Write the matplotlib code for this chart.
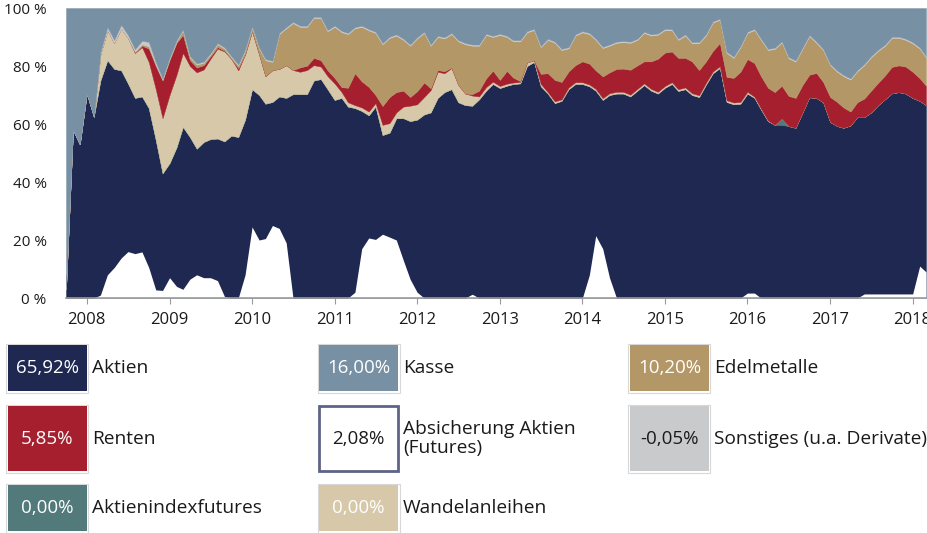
import matplotlib
matplotlib.use('Agg')
import matplotlib.pyplot as plt
import matplotlib.patches as mpatches
import matplotlib.dates as mdates
import numpy as np
import pandas as pd

plt.rcParams['font.family'] = ['Open Sans', 'DejaVu Sans']

# monthly allocation in % (Oct 2007 - Mar 2018)
months = pd.date_range('2007-10-01', periods=126, freq='MS')

aktien = [3, 58, 53, 70.5, 62.5, 75, 82, 79, 78.5, 74,
          69, 69.5, 65.5, 54.5, 43, 46.5, 52, 59, 55.5, 51.5,
          53.8, 54.8, 55, 54, 56, 55.5, 61.5, 72, 70, 67,
          67.6, 69.5, 69, 70.3, 70.3, 70.3, 75,
          75.5, 72, 68.3, 69, 66, 65.5, 64.5, 63, 66, 56.2, 57, 62, 62, 61, 61.5, 63.3, 64, 69,
          71, 72, 67.5, 66.5, 66.3, 68.5, 71.5, 73.8, 72.4, 73.2, 73.8, 74, 80, 81.4, 73, 70.5, 67.2, 68,
          72, 73.8, 73.8, 73, 71.5, 68.3, 70, 70.5, 70.5, 69.5, 71.5, 73.4, 71.5, 70.5, 72.5, 73.8, 71.4, 72, 70,
          69.3, 73.5, 77.5, 79.3, 67.6, 66.8, 67, 70.5, 69, 65, 61, 59.7, 59.7, 59.3, 58.7, 64, 69.2, 69,
          67.5, 60.7, 59.3, 58.7, 59.5, 62.4, 62.4, 64, 66.5, 68.6, 70.6, 71, 70.5, 69, 68, 66.5]

indexfutures = [0] * 104 + [2.2] + [0] * 21

wandelanleihen = [0, 0, 0, 0, 0, 9, 10.4, 9, 14.5, 15.7,
                  15.5, 17, 15.9, 17.5, 19, 23.5, 25, 25.5, 24.5, 26.3,
                  25, 27.7, 31, 31, 26.5, 23, 22.5, 20, 14, 9.5,
                  11, 9.5, 11.3, 8.3, 7.7, 8.3, 5.3,
                  4.3, 4.5, 5.7, 2, 1.5, 1, 1.2, 1.3, 1.2, 3.5, 3.3, 2, 4, 5.3, 5.3, 6, 7.7, 9,
                  6.5, 7.3, 6, 4, 3.5, 1, 1.2, 0.8, 0.7, 0.7, 0.5, 0.5, 1.2, 0.6, 0.8, 0.5, 0.6, 0.5] \
                 + [0.6] * 27 + [0.4, 0.3, 0.2] + [0] * 23

renten = [0, 0, 0, 0, 0, 0, 0, 0, 0, 0,
          0, 0.5, 4.6, 8, 13, 12, 11, 6.2, 2, 1.7,
          1.5, 0.8, 0.5, 0.3, 0, 0.8, 0, 0, 0, 0,
          0, 0, 0, 0, 1.5, 1.5, 2.5,
          2.2, 2, 1.9, 1.7, 5, 11, 9, 8.5, 2.8, 6.5, 9, 7, 5.5, 3, 4.5, 5, 0.6, 0.6,
          0.7, 0.2, 0, 0, 0.5, 2, 3, 3.8, 2.1, 4.4, 1.7, 0.3, 0, 0, 3.5, 6.5, 7.4, 6,
          5.5, 5.9, 7.2, 7.2, 6.4, 7.5, 7.2, 7.9, 8, 8.6, 8.1, 7.6, 9.5, 11.4, 11.5, 10.6, 10.8, 10.2, 11,
          8.7, 7.4, 7.1, 8, 8, 8.5, 10.4, 11.3, 11.6, 11.2, 11.3, 11.3, 11.3, 10.4, 10.3, 9.5, 7.8, 8.6,
          7, 8.6, 8.3, 7, 4.8, 5.1, 6.4, 7.5, 7.7, 8.2, 9.1, 9.2, 9.3, 9, 7.8, 6.7]

edelmetalle = [0, 0, 0, 0, 0, 0, 0, 0, 0, 0,
               0.5, 0.5, 0.8, 0.5, 0.3, 0.5, 0.5, 1.5, 1, 1,
               0.8, 0.7, 1, 0.7, 0.5, 0.8, 1.3, 1.3, 2, 5.5,
               2.8, 12, 12.7, 16.2, 14, 13.4, 13.8,
               14.5, 13.5, 17.6, 19, 18.5, 15.5, 18.8, 19.5, 21.4, 21.3, 20.4, 19.5, 17.5, 17.7, 18.2, 17.1, 14.7, 11.4,
               11.3, 11.5, 15, 17, 16.7, 15.5, 15, 11.6, 15.5, 11.7, 12.5, 13.7, 10.4, 10.4, 9.2, 11.5, 12.8, 11,
               8, 10.2, 10, 10.2, 10.5, 9.8, 9.2, 9, 9.1, 9.3, 8.8, 9.8, 8.9, 8.3, 7.8, 7.3, 6.2, 7.7, 6.2,
               9.3, 9, 9.8, 8, 8.3, 6.9, 8.5, 9, 11.4, 12.5, 13, 14.9, 14.9, 13, 12.5, 12.5, 13.3, 10.4,
               11, 11, 10.4, 10.8, 11, 10.7, 11.5, 11.5, 11, 10.2, 10, 9.5, 9.2, 9.8, 10.2, 9.8]

sonstiges = [0, 0, 0, 0, 0, 0.8, 1, 1, 1.2, 1, 0.8, 1.2, 1.5, 0.8] + [0.4] * 112

absicherung = [0, 0, 0, 0, 0, 1, 8, 10.5, 13.8, 16,
               15.3, 15.9, 10.5, 2.8, 2.6, 7, 4, 3, 6.5, 8,
               7, 7, 6, 0.5, 0, 0, 8, 24.5, 20, 20.5,
               25, 24, 19] + [0] * 9 + \
              [2, 17, 20.7, 20.2, 22, 21, 20, 13, 6.5, 2] + [0] * 7 + [1.3] + [0] * 16 + \
              [8, 21.5, 17, 7] + [0] * 19 + [1.7, 1.7] + [0] * 15 + [1.4] * 8 + [11, 9]

legend_values = ['65,92%', '16,00%', '10,20%', '5,85%', '2,08%', '-0,05%', '0,00%', '0,00%']
legend_labels = ['Aktien', 'Kasse', 'Edelmetalle', 'Renten', 'Absicherung Aktien\n(Futures)',
                 'Sonstiges (u.a. Derivate)', 'Aktienindexfutures', 'Wandelanleihen']

c_aktien = '#1f2850'
c_kasse = '#7890a3'
c_edel = '#b39766'
c_renten = '#a61f2e'
c_wandel = '#d6c8a8'
c_sonst = '#c9cacc'
c_index = '#527a7b'
c_absich = '#5e6486'

W, H = 928, 533
fig = plt.figure(figsize=(W / 100, H / 100), dpi=100)
ax = fig.add_axes([66 / W, (H - 298) / H, (926 - 66) / W, 290 / H])

layers = [np.array(aktien), np.array(indexfutures), np.array(wandelanleihen),
          np.array(renten), np.array(edelmetalle), np.array(sonstiges)]
colors = [c_aktien, c_index, c_wandel, c_renten, c_edel, c_sonst]
top = np.sum(layers, axis=0)
kasse = 100 - top
ax.stackplot(months, *layers, kasse, colors=colors + [c_kasse], linewidth=0.3,
             edgecolor='face')
ax.fill_between(months, 0, absicherung, color='white', linewidth=0)

ax.set_xlim(months[0], months[-1])
ax.set_ylim(0, 100)
for s in ['top', 'right', 'left']:
    ax.spines[s].set_visible(False)
ax.spines['bottom'].set_color('#9a9a9a')
ax.spines['bottom'].set_linewidth(1.2)
ax.set_yticks([0, 20, 40, 60, 80, 100])
ax.set_yticklabels([f'{v} %' for v in [0, 20, 40, 60, 80, 100]])
ax.tick_params(axis='y', length=0, pad=14, labelsize=11, labelcolor='#1a1a1a')
ax.xaxis.set_major_locator(mdates.YearLocator())
ax.xaxis.set_major_formatter(mdates.DateFormatter('%Y'))
ax.tick_params(axis='x', length=4, color='#9a9a9a', pad=6, labelsize=12, labelcolor='#1a1a1a')


def legend_box(x0, y0, x1, y1, face, value, tcolor, label, edge=None):
    if edge is None:
        frame = mpatches.Rectangle(((x0 - 1.5) / W, 1 - (y1 + 1.5) / H), (x1 - x0 + 3) / W,
                                   (y1 - y0 + 3) / H, transform=fig.transFigure,
                                   facecolor='none', edgecolor='#d8d8d8', lw=0.8)
        fig.add_artist(frame)
        rect = mpatches.Rectangle((x0 / W, 1 - y1 / H), (x1 - x0) / W, (y1 - y0) / H,
                                  transform=fig.transFigure, facecolor=face, lw=0)
    else:
        rect = mpatches.Rectangle((x0 / W, 1 - y1 / H), (x1 - x0) / W, (y1 - y0) / H,
                                  transform=fig.transFigure, facecolor=face,
                                  edgecolor=edge, lw=2)
    fig.add_artist(rect)
    cy = 1 - (y0 + y1) / 2 / H
    fig.text((x0 + x1) / 2 / W, cy, value, color=tcolor, fontsize=13.5,
             ha='center', va='center')
    fig.text((x1 + 5) / W, cy, label, color='#1a1a1a', fontsize=13.8,
             ha='left', va='center', linespacing=1.05)


col_x = [(8, 87), (319, 398), (630, 709)]
row_y = [(345, 391), (406, 471), (485, 531)]
faces = [c_aktien, c_kasse, c_edel, c_renten, 'white', c_sonst, c_index, c_wandel]
tcols = ['white', 'white', 'white', 'white', '#1a1a1a', '#1a1a1a', 'white', 'white']
edges = [None, None, None, None, c_absich, None, None, None]
for k in range(len(legend_values)):
    r, c = divmod(k, 3)
    legend_box(col_x[c][0], row_y[r][0], col_x[c][1], row_y[r][1], faces[k],
               legend_values[k], tcols[k], legend_labels[k], edges[k])

fig.savefig('out.png', dpi=100)
